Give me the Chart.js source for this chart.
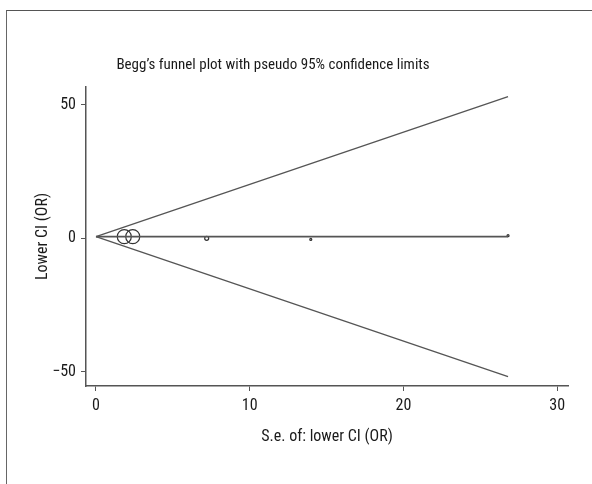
<!DOCTYPE html>
<html>
<head>
<meta charset="utf-8">
<script src="https://cdn.jsdelivr.net/npm/chart.js@4"></script>
<style>
  html, body { margin: 0; padding: 0; background: #fff; }
  #wrap { position: relative; width: 592px; height: 484px; }
  #frame { position: absolute; left: 6px; top: 10px; right: 0; bottom: 0;
           border-top: 1.5px solid #555; border-left: 1.5px solid #666; }
  canvas { position: absolute; left: 0; top: 0; }
</style>
</head>
<body>
<div id="wrap">
  <div id="frame"></div>
  <canvas id="c" width="592" height="484"></canvas>
</div>
<script>
// Study estimates: standard error of the lower CI and the lower CI (OR)
const studySe = [1.84, 2.39, 7.2, 13.97, 26.8];
const studyLowerCI = [0.55, 0.55, -0.1, -0.5, 0.9];
const studyMarkerRadius = [7, 7, 2, 1, 1];

// Pooled estimate line and pseudo 95% confidence limits
const funnelSe = [0, 26.8];
const pooledLine = [0.55, 0.55];
const upperLimit = [0.55, 53.0];
const lowerLimit = [0.55, -51.9];

// Axis ticks
const xTicks = [0, 10, 20, 30];
const yTicks = [-50, 0, 50];

const FONT = "'Liberation Sans Narrow', 'Roboto Condensed', 'DejaVu Sans Condensed', sans-serif";
const TEXT = '#1a1a1a';
const pts = (xs, ys) => xs.map((x, i) => ({ x: x, y: ys[i] }));

const titlePlugin = {
  id: 'plotTitle',
  afterDraw(chart) {
    const ctx = chart.ctx;
    ctx.save();
    ctx.font = "15px " + FONT;
    ctx.fillStyle = TEXT;
    ctx.textAlign = 'center';
    ctx.textBaseline = 'middle';
    ctx.fillText('Begg\u2019s funnel plot with pseudo 95% confidence limits', 273, 65);
    ctx.restore();
  }
};

new Chart(document.getElementById('c'), {
  type: 'scatter',
  data: {
    datasets: [
      { data: pts(funnelSe, upperLimit), showLine: true, borderColor: '#555', borderWidth: 1.3, pointRadius: 0 },
      { data: pts(funnelSe, lowerLimit), showLine: true, borderColor: '#555', borderWidth: 1.3, pointRadius: 0 },
      { data: pts(funnelSe, pooledLine), showLine: true, borderColor: '#555', borderWidth: 1.8, pointRadius: 0 },
      { data: pts(studySe, studyLowerCI), showLine: false, pointRadius: studyMarkerRadius,
        pointBorderColor: '#333', pointBackgroundColor: 'rgba(0,0,0,0)', pointBorderWidth: 1.2 }
    ]
  },
  options: {
    responsive: false,
    animation: false,
    layout: { padding: { top: 87, right: 24, bottom: 0, left: 0 } },
    plugins: { legend: { display: false }, tooltip: { enabled: false }, title: { display: false } },
    scales: {
      x: {
        type: 'linear', min: -0.65, max: 30.7,
        afterFit: s => { s.height = 98; },
        afterBuildTicks: s => { s.ticks = xTicks.map(v => ({ value: v })); },
        grid: { drawOnChartArea: false, drawTicks: true, tickLength: 5, color: '#555', tickColor: '#555' },
        border: { display: true, color: '#555', width: 1.5 },
        ticks: { font: { family: FONT, size: 16 }, color: TEXT, padding: 5, maxRotation: 0, autoSkip: false },
        title: { display: true, text: 'S.e. of: lower CI (OR)', font: { family: FONT, size: 16 }, color: TEXT,
                 padding: { top: 0, bottom: 37 } }
      },
      y: {
        type: 'linear', min: -55.4, max: 56.6,
        afterFit: s => { s.width = 86; },
        afterBuildTicks: s => { s.ticks = yTicks.map(v => ({ value: v })); },
        grid: { drawOnChartArea: false, drawTicks: true, tickLength: 5, color: '#555', tickColor: '#555' },
        border: { display: true, color: '#555', width: 1.5 },
        ticks: { font: { family: FONT, size: 16 }, color: TEXT, padding: 5,
                 callback: v => (v < 0 ? '\u2212' + Math.abs(v) : String(v)) },
        title: { display: true, text: 'Lower CI (OR)', font: { family: FONT, size: 16 }, color: TEXT,
                 padding: { top: 33, bottom: 0 } }
      }
    }
  },
  plugins: [titlePlugin]
});
</script>
</body>
</html>
